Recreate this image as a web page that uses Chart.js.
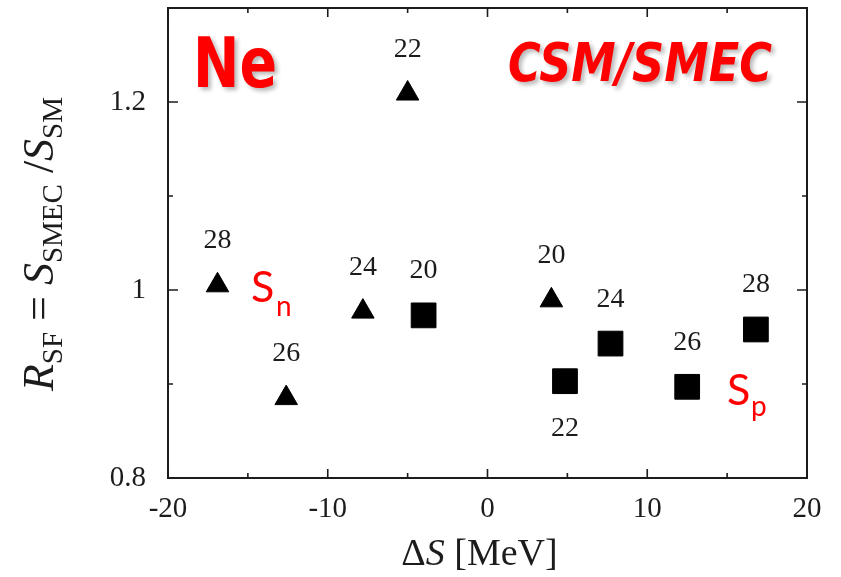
<!DOCTYPE html>
<html>
<head>
<meta charset="utf-8">
<script src="https://cdn.jsdelivr.net/npm/chart.js@4.4.1/dist/chart.umd.min.js"></script>
<style>
  html, body { margin: 0; padding: 0; background: #ffffff; }
  #wrap { width: 841px; height: 577px; }
</style>
</head>
<body>
<div id="wrap"><canvas id="c" width="841" height="577"></canvas></div>
<script>
// Mass numbers of the Ne isotopes shown next to each marker
const massNumbers = [20, 22, 24, 26, 28];

// Neutron separation energy difference (triangles)
const snDeltaS = [4.0, -5.0, -7.8, -12.6, -16.9];
const snRatio  = [0.989, 1.209, 0.977, 0.885, 1.005];

// Proton separation energy difference (squares)
const spDeltaS = [-4.0, 4.85, 7.7, 12.5, 16.8];
const spRatio  = [0.973, 0.903, 0.943, 0.897, 0.958];

// Axis ticks
const xTicks = [-20, -10, 0, 10, 20];
const xMinorTicks = [-15, -5, 5, 15];
const yTicks = [0.8, 1, 1.2];
const yMinorTicks = [0.9, 1.1];

const SERIF = '"Liberation Serif", "Times New Roman", serif';
const INK = '#1c1c1c';

const toPoints = (xs, ys) => xs.map((x, i) => ({ x: x, y: ys[i], mass: massNumbers[i] }));

// Frame with inward ticks on all four sides
const framePlugin = {
  id: 'frame',
  afterDatasetsDraw(chart) {
    const { ctx, chartArea: a, scales } = chart;
    const xs = scales.x, ys = scales.y;
    ctx.save();
    ctx.strokeStyle = INK;
    ctx.lineWidth = 2;
    ctx.strokeRect(a.left, a.top, a.right - a.left, a.bottom - a.top);
    ctx.lineWidth = 1.6;
    const tick = (v, len, axis) => {
      ctx.beginPath();
      if (axis === 'x') {
        const p = xs.getPixelForValue(v);
        ctx.moveTo(p, a.bottom); ctx.lineTo(p, a.bottom - len);
        ctx.moveTo(p, a.top); ctx.lineTo(p, a.top + len);
      } else {
        const p = ys.getPixelForValue(v);
        ctx.moveTo(a.left, p); ctx.lineTo(a.left + len, p);
        ctx.moveTo(a.right, p); ctx.lineTo(a.right - len, p);
      }
      ctx.stroke();
    };
    xTicks.forEach(v => tick(v, 9, 'x'));
    xMinorTicks.forEach(v => tick(v, 5, 'x'));
    yTicks.forEach(v => tick(v, 10, 'y'));
    yMinorTicks.forEach(v => tick(v, 5, 'y'));
    ctx.restore();
  }
};

// Mass-number labels next to the markers
const massLabelPlugin = {
  id: 'massLabels',
  afterDatasetsDraw(chart, args, opts) {
    const { ctx } = chart;
    ctx.save();
    ctx.font = '28px ' + SERIF;
    ctx.fillStyle = INK;
    ctx.textAlign = 'center';
    ctx.textBaseline = 'alphabetic';
    chart.data.datasets.forEach((ds, di) => {
      const meta = chart.getDatasetMeta(di);
      const below = opts.below[di] || [];
      meta.data.forEach((el, i) => {
        const raw = ds.data[i];
        const dy = below.includes(i) ? 55 : -37;
        ctx.fillText(String(raw.mass), el.x, el.y + dy);
      });
    });
    ctx.restore();
  }
};

// Draws a run of text pieces (italic letters, lowered subscripts)
function drawRuns(ctx, runs) {
  let total = 0;
  runs.forEach(r => { ctx.font = r.font; r.w = ctx.measureText(r.t).width; total += r.w + (r.gap || 0); });
  let x = -total / 2;
  runs.forEach(r => {
    ctx.font = r.font;
    ctx.fillText(r.t, x, r.dy || 0);
    x += r.w + (r.gap || 0);
  });
}

// Red text squeezed to a given width
function drawFitted(ctx, text, font, left, baseline, width) {
  ctx.save();
  ctx.font = font;
  const w = ctx.measureText(text).width;
  ctx.translate(left, baseline);
  ctx.scale(width / w, 1);
  ctx.fillText(text, 0, 0);
  ctx.restore();
}

const annotationPlugin = {
  id: 'annotations',
  afterDraw(chart) {
    const { ctx, chartArea: a } = chart;
    ctx.save();
    ctx.fillStyle = INK;
    ctx.textAlign = 'left';
    ctx.textBaseline = 'alphabetic';

    // y-axis title: R_SF = S_SMEC / S_SM
    ctx.save();
    ctx.translate(53, (a.top + a.bottom) / 2 + 1);
    ctx.rotate(-Math.PI / 2);
    const big = '44px ' + SERIF, bigI = 'italic 44px ' + SERIF, sub = '29px ' + SERIF;
    drawRuns(ctx, [
      { t: 'R', font: bigI },
      { t: 'SF', font: sub, dy: 9 },
      { t: ' = ', font: big },
      { t: 'S', font: bigI },
      { t: 'SMEC', font: sub, dy: 9 },
      { t: ' /', font: big },
      { t: 'S', font: bigI },
      { t: 'SM', font: sub, dy: 9 }
    ]);
    ctx.restore();

    // x-axis title: ΔS [MeV]
    ctx.save();
    ctx.translate((a.left + a.right) / 2 - 8, 565);
    drawRuns(ctx, [
      { t: '\u0394', font: '38px ' + SERIF },
      { t: 'S', font: 'italic 38px ' + SERIF },
      { t: ' [MeV]', font: '38px ' + SERIF }
    ]);
    ctx.restore();

    // red labels
    ctx.fillStyle = '#ff0000';
    ctx.save();
    ctx.shadowColor = 'rgba(0,0,0,0.28)';
    ctx.shadowBlur = 4;
    ctx.shadowOffsetX = 3;
    ctx.shadowOffsetY = 3;
    drawFitted(ctx, 'Ne', 'bold 70px "DejaVu Sans", sans-serif', 193, 87, 84);
    drawFitted(ctx, 'CSM/SMEC', 'italic bold 53px "DejaVu Sans", sans-serif', 508, 81, 264);
    ctx.restore();

    ctx.font = '43px Lato, "Noto Sans", sans-serif';
    ctx.fillText('S', 251, 302);
    ctx.font = '28px Lato, "Noto Sans", sans-serif';
    ctx.fillText('n', 276, 316);
    ctx.font = '43px Lato, "Noto Sans", sans-serif';
    ctx.fillText('S', 727, 405);
    ctx.font = '28px Lato, "Noto Sans", sans-serif';
    ctx.fillText('p', 751, 416);
    ctx.restore();
  }
};

// Keep the plot box fixed: no extra room reserved for overhanging tick labels
const noOverhang = s => { s.paddingTop = 0; s.paddingBottom = 0; s.paddingLeft = 0; s.paddingRight = 0; };

new Chart(document.getElementById('c'), {
  type: 'scatter',
  data: {
    datasets: [
      {
        label: 'Sn',
        data: toPoints(snDeltaS, snRatio),
        pointStyle: 'triangle',
        pointRadius: 13,
        pointHoverRadius: 13,
        backgroundColor: '#000000',
        borderColor: '#000000',
        borderWidth: 1
      },
      {
        label: 'Sp',
        data: toPoints(spDeltaS, spRatio),
        pointStyle: 'rect',
        pointRadius: 17.5,
        pointHoverRadius: 17.5,
        backgroundColor: '#000000',
        borderColor: '#000000',
        borderWidth: 1
      }
    ]
  },
  options: {
    responsive: false,
    animation: false,
    events: [],
    layout: { autoPadding: false, padding: { top: 8, right: 34, left: 0, bottom: 0 } },
    plugins: {
      legend: { display: false },
      tooltip: { enabled: false },
      massLabels: { below: [[], [1]] }
    },
    scales: {
      x: {
        type: 'linear',
        min: -20, max: 20,
        afterBuildTicks: s => { s.ticks = xTicks.map(v => ({ value: v })); },
        afterFit: s => { s.height = 99; noOverhang(s); },
        grid: { display: false, drawTicks: false },
        border: { display: false },
        ticks: {
          font: { family: SERIF, size: 29 },
          color: INK,
          padding: 14,
          maxRotation: 0,
          autoSkip: false,
          callback: v => String(v)
        }
      },
      y: {
        type: 'linear',
        min: 0.8, max: 1.3,
        afterBuildTicks: s => { s.ticks = yTicks.map(v => ({ value: v })); },
        afterFit: s => { s.width = 168; noOverhang(s); },
        grid: { display: false, drawTicks: false },
        border: { display: false },
        ticks: {
          font: { family: SERIF, size: 29 },
          color: INK,
          padding: 22,
          autoSkip: false,
          callback: v => String(v)
        }
      }
    }
  },
  plugins: [framePlugin, massLabelPlugin, annotationPlugin]
});
</script>
</body>
</html>
